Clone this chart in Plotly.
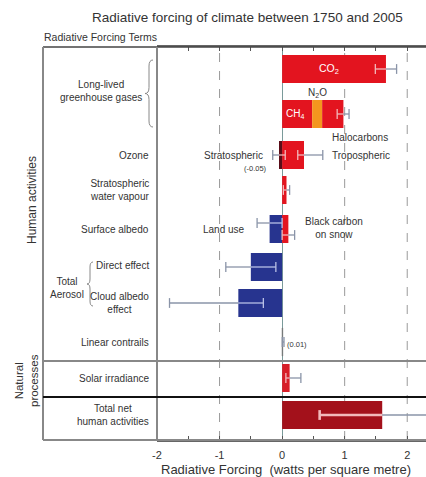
import plotly.graph_objects as go

# ---------------- data ----------------
terms = ["CO2", "CH4", "N2O", "Halocarbons", "Stratospheric ozone", "Tropospheric ozone",
         "Stratospheric water vapour", "Land use", "Black carbon on snow",
         "Direct effect", "Cloud albedo effect", "Linear contrails",
         "Solar irradiance", "Total net human activities"]
values = [1.66, 0.48, 0.16, 0.34, -0.05, 0.35, 0.07, -0.20, 0.10, -0.50, -0.70, 0.01, 0.12, 1.60]
err_low = [1.49, None, None, 0.88, -0.15, 0.25, 0.02, -0.40, 0.00, -0.90, -1.80, 0.003, 0.06, 0.60]
err_high = [1.83, None, None, 1.07, 0.05, 0.65, 0.12, 0.00, 0.20, -0.10, -0.30, 0.03, 0.30, 2.40]
row_of_term = [0, 1, 1, 1, 2, 2, 3, 4, 4, 5, 6, 7, 8, 9]
row_labels = ["", "", "Ozone", "Stratospheric<br>water vapour", "Surface albedo", "Direct effect",
              "Cloud albedo<br>effect", "Linear contrails", "Solar irradiance",
              "Total net<br>human activities"]
tick_vals = [-2, -1, 0, 1, 2]
tick_text = ["-2", "-1", "0", "1", "2"]

# ---------------- layout / style ----------------
W, H = 426, 477
ML, MR, MT, MB = 157, 0, 47, 37
PW, PH = W - ML - MR, H - MT - MB
row_pos = [22, 67, 108, 143, 182, 220, 256, 295, 331, 368]   # pixel rows from plot top
err_offset = [0, 0, 0, 0, 0, 0, 0, -6, 6, 0, 0, 0, 0, 0]
RED, ORANGE, BLUE, DARK, DRED, GREY = "#e3141f", "#f4961e", "#27348f", "#5a0d18", "#a3111b", "#777777"
colors = [RED, RED, ORANGE, RED, DARK, RED, RED, BLUE, RED, BLUE, BLUE, GREY, "#d71e28", DRED]
GRAY_ERR = "#8a94a8"
LIGHT_RED, LIGHT_BLUE = "#f2b9bb", "#b9c0e6"
FONT = "Liberation Sans, Arial, sans-serif"
TXT = "#333333"


def px(xp):
    return (xp - ML) / PW


def py(yp):
    return (MT + PH - yp) / PH


fig = go.Figure()

# stacked bases per row
pos_acc, neg_acc = {}, {}
ends = []
for i, v in enumerate(values):
    r = row_of_term[i]
    if v >= 0:
        b = pos_acc.get(r, 0.0)
        pos_acc[r] = b + v
    else:
        b = neg_acc.get(r, 0.0)
        neg_acc[r] = b + v
    ends.append(b + v)
    fig.add_trace(go.Bar(
        x=[v], y=[row_pos[r]], base=[b], orientation="h", width=28,
        marker=dict(color=colors[i], line=dict(width=0.6 if colors[i] == GREY else 0, color="#777")),
        name=terms[i], showlegend=False, hoverinfo="name+x"))


def seg(x0, x1, y, color, w):
    fig.add_trace(go.Scatter(x=[x0, x1], y=[y, y], mode="lines",
                             line=dict(color=color, width=w),
                             showlegend=False, hoverinfo="skip"))


def cap(x, y, color, w):
    fig.add_trace(go.Scatter(x=[x], y=[y], mode="markers",
                             marker=dict(symbol="line-ns", size=7,
                                         line=dict(color=color, width=w)),
                             showlegend=False, hoverinfo="skip"))


for i in range(len(terms)):
    if err_low[i] is None:
        continue
    r = row_of_term[i]
    y = row_pos[r] + err_offset[i]
    lo, hi = err_low[i], err_high[i]
    rlo, rhi = neg_acc.get(r, 0.0), pos_acc.get(r, 0.0)
    if colors[i] == BLUE:
        light = LIGHT_BLUE
    elif colors[i] == GREY:
        light = GRAY_ERR
    else:
        light = LIGHT_RED
    w = 2.6 if colors[i] == DRED else 1.3
    ilo, ihi = max(lo, rlo), min(hi, rhi)
    if ihi > ilo:
        seg(ilo, ihi, y, light, w)
    if lo < ilo:
        seg(lo, min(ilo, hi), y, GRAY_ERR, 1.3)
    if hi > ihi:
        seg(max(ihi, lo), hi, y, GRAY_ERR, 1.3)
    for xe in (lo, hi):
        inside = rlo <= xe <= rhi
        cap(xe, y, light if inside else GRAY_ERR, w if inside else 1.3)

shapes = []
# dashed grid
for gx in [-1, 1, 2]:
    shapes.append(dict(type="line", xref="x", yref="paper", x0=gx, x1=gx, y0=0, y1=1,
                       line=dict(color="#9a9a9a", width=1, dash="dash"), layer="below"))
# frame lines
xl = px(43)
shapes += [
    dict(type="line", xref="paper", yref="paper", x0=xl, x1=1.05, y0=1, y1=1, line=dict(color="#444", width=1.5)),
    dict(type="line", xref="paper", yref="paper", x0=xl, x1=1.05, y0=0, y1=0, line=dict(color="#888", width=2)),
    dict(type="line", xref="paper", yref="paper", x0=xl, x1=xl, y0=0, y1=1, line=dict(color="#888", width=2)),
    dict(type="line", xref="paper", yref="paper", x0=0, x1=0, y0=0, y1=1, line=dict(color="#888", width=2)),
    dict(type="line", xref="paper", yref="y", x0=xl, x1=1.05, y0=314, y1=314, line=dict(color="#888", width=2)),
    dict(type="line", xref="paper", yref="y", x0=xl, x1=1.05, y0=350, y1=350, line=dict(color="#111", width=2)),
]


def brace(xp, y1p, y2p, w=4, r=6):
    ym = (y1p + y2p) / 2
    pts = lambda a, b: f"{px(a)},{py(b)}"
    return ("M " + pts(xp + w, y1p) + " Q " + pts(xp, y1p) + " " + pts(xp, y1p + r) +
            " L " + pts(xp, ym - r) + " Q " + pts(xp, ym) + " " + pts(xp - w, ym) +
            " Q " + pts(xp, ym) + " " + pts(xp, ym + r) +
            " L " + pts(xp, y2p - r) + " Q " + pts(xp, y2p) + " " + pts(xp + w, y2p))


shapes.append(dict(type="path", xref="paper", yref="paper", path=brace(149, 60, 127),
                   line=dict(color="#888", width=1)))
shapes.append(dict(type="path", xref="paper", yref="paper", path=brace(90, 262, 306, w=3, r=5),
                   line=dict(color="#888", width=1)))

ann = []
LS = 10  # label font size


def A(text, xp, yp, size=LS, xanchor="center", color=TXT, angle=0):
    ann.append(dict(text=text, x=px(xp), y=py(yp), xref="paper", yref="paper", showarrow=False,
                    xanchor=xanchor, yanchor="middle", textangle=angle,
                    font=dict(family=FONT, size=size, color=color)))


A("Radiative forcing of climate between 1750 and 2005", 247, 17, size=13.5)
A("Radiative Forcing Terms", 42, 37, size=10.5, xanchor="left")
A("Long-lived<br>greenhouse gases", 144, 91, xanchor="right")
for r, lab in enumerate(row_labels):
    if lab and r not in (5, 6):
        A(lab, 151, MT + row_pos[r], xanchor="right")
A("Direct effect", 151, MT + 220 - 2, xanchor="right")
A("Cloud albedo<br>effect", 151, MT + 256, xanchor="right")
A("Total<br>Aerosol", 86, 288, xanchor="right")
A("Human activities", 32, 200, size=12, angle=-90)
A("Natural<br>processes", 26, 381, size=11.5, angle=-90)
A("Radiative Forcing  (watts per square metre)", 286, 470, size=13)


def D(text, x, y, size=LS, xanchor="center", color=TXT):
    ann.append(dict(text=text, x=x, y=y, xref="x", yref="y", showarrow=False, xanchor=xanchor,
                    yanchor="middle", font=dict(family=FONT, size=size, color=color)))


D("CO<sub>2</sub>", 0.75, row_pos[0], size=10.5, color="white")
D("CH<sub>4</sub>", 0.2, row_pos[1], size=10, color="white")
D("N<sub>2</sub>O", 0.56, row_pos[1] - 21, size=10)
D("Halocarbons", 1.25, row_pos[1] + 23)
D("Stratospheric", -0.28, row_pos[2], xanchor="right")
D("(-0.05)", -0.42, row_pos[2] + 13, size=7.5)
D("Tropospheric", 0.76, row_pos[2], xanchor="left")
D("Land use", -0.93, row_pos[4])
D("Black carbon<br>on snow", 0.83, row_pos[4] - 1)
D("(0.01)", 0.05, row_pos[7] + 2, size=7.5, xanchor="left")

fig.update_layout(
    width=W, height=H, margin=dict(l=ML, r=MR, t=MT, b=MB),
    paper_bgcolor="white", plot_bgcolor="white", barmode="overlay",
    shapes=shapes, annotations=ann, showlegend=False,
    font=dict(family=FONT, color=TXT),
    xaxis=dict(range=[-2, 2.3], tickvals=tick_vals, ticktext=tick_text, ticks="inside",
               ticklen=4, tickcolor="#555", showgrid=False, zeroline=True, zerolinecolor="#7a9a9a",
               zerolinewidth=1, showline=True, linecolor="#666", linewidth=1.5, mirror="allticks",
               minor=dict(dtick=0.5, tick0=0, ticks="inside", ticklen=4, tickcolor="#555", showgrid=False),
               ticklabelstandoff=4,
               tickfont=dict(size=11, color=TXT, family=FONT), fixedrange=True),
    yaxis=dict(range=[PH, 0], showticklabels=False, showgrid=False, zeroline=False,
               showline=False, fixedrange=True),
)

fig.write_html("out.html")
